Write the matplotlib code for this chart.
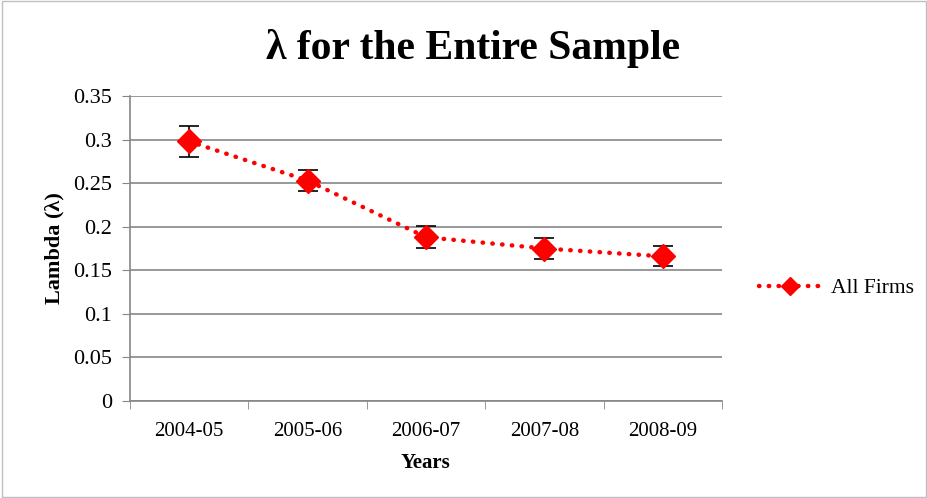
import matplotlib.pyplot as plt
from matplotlib.patches import Rectangle

plt.rcParams['font.family'] = ['Liberation Serif', 'DejaVu Serif']

years = ['2004-05', '2005-06', '2006-07', '2007-08', '2008-09']
lam = [0.298, 0.253, 0.188, 0.175, 0.166]
err = [0.0175, 0.0125, 0.0125, 0.0115, 0.0115]

fig = plt.figure(figsize=(9.28, 4.98), dpi=100)
ax = fig.add_axes([0.140, 0.195, 0.638, 0.612])

x = list(range(len(years)))
ax.errorbar(x, lam, yerr=err, fmt='none', ecolor='black', elinewidth=1.2,
            capsize=7, capthick=1.2, zorder=2)
ax.plot(x, lam, color='#ff0000', linestyle=(0, (0.1, 2.1)), linewidth=3.2,
        dash_capstyle='round', marker='D', markersize=12,
        markerfacecolor='#ff0000', markeredgecolor='#ff0000',
        label='All Firms', zorder=3)

ax.set_xlim(-0.5, 4.5)
ax.set_ylim(0, 0.35)
ax.set_yticks([0, 0.05, 0.1, 0.15, 0.2, 0.25, 0.3, 0.35])
ax.set_yticklabels(['0', '0.05', '0.1', '0.15', '0.2', '0.25', '0.3', '0.35'])
ax.set_xticks(x)
ax.set_xticklabels(years)
ax.set_xticks([i + 0.5 for i in range(-1, 5)], minor=True)
ax.tick_params(axis='x', which='major', length=0, pad=15, labelsize=15)
ax.tick_params(axis='x', which='minor', length=6, color='#868686', direction='out')
ax.tick_params(axis='y', length=6, color='#868686', labelsize=16, pad=7)

ax.yaxis.grid(True, color='#868686', linewidth=1.2)
ax.set_axisbelow(True)
for s in ['top', 'right']:
    ax.spines[s].set_visible(False)
for s in ['left', 'bottom']:
    ax.spines[s].set_color('#868686')
    ax.spines[s].set_linewidth(1.2)

ax.set_xlabel('Years', fontsize=15, fontweight='bold', labelpad=9)
ax.set_ylabel('Lambda (λ)', fontsize=16, fontweight='bold', labelpad=6)
fig.text(0.51, 0.902, 'λ for the Entire Sample', ha='center', va='center',
         fontsize=30, fontweight='bold')

ax.legend(loc='center left', bbox_to_anchor=(1.03, 0.37), frameon=False,
          fontsize=15.5, handlelength=2.9, handletextpad=0.45, markerscale=0.8)

fig.patches.append(Rectangle((0.002, 0.003), 0.996, 0.994, transform=fig.transFigure,
                             fill=False, edgecolor='#bfbfbf', linewidth=1))

fig.savefig('out.png', dpi=100)
